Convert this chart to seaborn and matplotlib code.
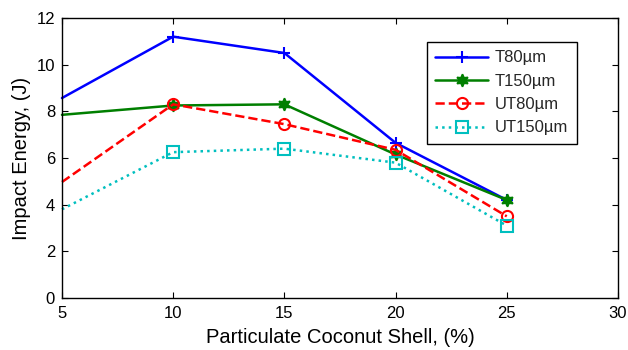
import matplotlib
matplotlib.use("Agg")
import matplotlib.pyplot as plt
import seaborn as sns
import pandas as pd

shell = [5, 10, 15, 20, 25]
t80 = [8.57, 11.2, 10.5, 6.65, 4.2]
t150 = [7.85, 8.25, 8.3, 6.15, 4.2]
ut80 = [4.97, 8.3, 7.45, 6.35, 3.5]
ut150 = [3.8, 6.25, 6.4, 5.8, 3.1]
labels = ["T80µm", "T150µm", "UT80µm", "UT150µm"]
xticks = [5, 10, 15, 20, 25, 30]
yticks = [0, 2, 4, 6, 8, 10, 12]

sns.set_theme(style="ticks")
plt.rcParams['font.family'] = ['Liberation Sans', 'DejaVu Sans']
plt.rcParams['xtick.direction'] = 'in'
plt.rcParams['ytick.direction'] = 'in'

fig = plt.figure(figsize=(6.28, 3.5), dpi=100)
ax = fig.add_axes([0.0987, 0.1486, 0.8853, 0.80])

styles = [
    dict(color="#0000ff", linestyle="-", marker="+", ms=9, mew=1.5, mfc="none"),
    dict(color="#007f00", linestyle="-", marker=(6, 1, 0), ms=9, mew=1.2, mfc="#007f00"),
    dict(color="#ff0000", linestyle="--", marker="o", ms=8, mew=1.5, mfc="none"),
    dict(color="#00bfbf", linestyle=":", marker="s", ms=8, mew=1.5, mfc="none"),
]
series = [t80, t150, ut80, ut150]
for lab, vals, st in zip(labels, series, styles):
    df = pd.DataFrame({"x": shell, "y": vals})
    sns.lineplot(data=df, x="x", y="y", ax=ax, label=lab, color=st["color"],
                 linestyle=st["linestyle"], marker=st["marker"], markersize=st["ms"],
                 markeredgewidth=st["mew"], markerfacecolor=st["mfc"],
                 markeredgecolor=st["color"], markevery=[1, 2, 3, 4],
                 linewidth=1.8, clip_on=False)

ax.set_xlim(5, 30)
ax.set_ylim(0, 12)
ax.set_xticks(xticks)
ax.set_yticks(yticks)
ax.tick_params(labelsize=12, top=True, right=True, length=4, width=0.8, colors="black")
ax.tick_params(axis="x", pad=6)
ax.tick_params(axis="y", pad=5)
for sp in ax.spines.values():
    sp.set_color("black")
    sp.set_linewidth(1.0)
ax.set_xlabel("Particulate Coconut Shell, (%)", fontsize=14.5, color="black", labelpad=5)
ax.set_ylabel("Impact Energy, (J)", fontsize=14.5, color="black", labelpad=4)

leg = ax.legend(loc="upper right", bbox_to_anchor=(0.926, 0.914), fontsize=12,
                frameon=True, fancybox=False, edgecolor="black", framealpha=1,
                handlelength=3.2, borderpad=0.5, labelspacing=0.5, handletextpad=0.4,
                borderaxespad=0)
leg.get_frame().set_linewidth(1.0)

fig.savefig("out.png", dpi=100)
